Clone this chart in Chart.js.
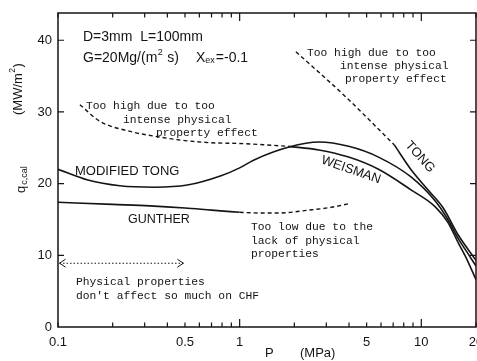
<!DOCTYPE html>
<html><head><meta charset="utf-8">
<script src="https://cdn.jsdelivr.net/npm/chart.js@4"></script>
<style>html,body{margin:0;padding:0;background:#fff}canvas{display:block}</style>
</head><body>
<canvas id="c" width="477" height="361"></canvas>
<script>
// ---- data (P in MPa, q in MW/m2) ----
const modTongP = [0.1, 0.146, 0.219, 0.34, 0.515, 0.79, 1.0, 1.2, 1.87, 2.73, 3.98, 5.81, 8.81, 11.9, 14.0, 16.0, 18.0, 20];
const modTongQ = [22.0, 20.5, 19.7, 19.5, 19.8, 21.1, 22.2, 23.3, 25.1, 25.8, 25.2, 23.7, 20.9, 17.6, 15.0, 12.3, 10.3, 8.5];
const weismanSolidP = [1.85, 2.73, 3.98, 5.81, 8.81, 11.9, 14.0, 16.0, 18.0, 20];
const weismanSolidQ = [25.2, 24.7, 23.7, 22.0, 19.1, 16.8, 14.6, 11.7, 9.2, 6.6];
const weismanDashP = [0.132, 0.17, 0.258, 0.362, 0.5, 0.7, 1.0, 1.4, 1.85];
const weismanDashQ = [31.0, 28.7, 27.2, 26.5, 26.0, 25.7, 25.6, 25.4, 25.2];
const tongDashP = [2.04, 3.8, 7.1];
const tongDashQ = [38.4, 32.2, 25.4];
const tongSolidP = [7.1, 8.81, 10.9, 13.2, 16.0, 20];
const tongSolidQ = [25.4, 21.9, 19.1, 16.6, 12.8, 9.3];
const guntherSolidP = [0.1, 0.2, 0.32, 0.5, 0.7, 1.0];
const guntherSolidQ = [17.4, 17.1, 16.9, 16.6, 16.3, 16.0];
const guntherDashP = [1.0, 1.3, 1.65, 2.4, 3.2, 4.0];
const guntherDashQ = [16.0, 15.9, 15.9, 16.3, 16.7, 17.2];
const arrowP = [0.102, 0.49];
const arrowQ = [8.9, 8.9];

const xTickValues = [0.1,0.2,0.3,0.4,0.5,0.6,0.7,0.8,0.9,1,2,3,4,5,6,7,8,9,10,20];
const xTickLabels = ['0.1','0.5','1','5','10','20'];
const xMajorTicks = [1, 10];
const yTickValues = [0, 10, 20, 30, 40];

const ink = '#141414';
function series(P, Q) { return P.map((p, i) => ({x: p, y: Q[i]})); }
function ds(label, P, Q, dash, width) {
  return {label, data: series(P, Q), borderColor: ink, backgroundColor: ink,
    borderWidth: width || 1.6, borderDash: dash || [], pointRadius: 0, showLine: true,
    fill: false, cubicInterpolationMode: 'monotone'};
}

const SANS = '"Liberation Sans", Arial, sans-serif';
const MONO = '"Liberation Mono", "DejaVu Sans Mono", monospace';

const decor = {
  id: 'decor',
  afterDraw(chart) {
    const ctx = chart.ctx, xa = chart.scales.x, ya = chart.scales.y;
    const {left, right, top, bottom} = chart.chartArea;
    ctx.save();
    ctx.strokeStyle = ink; ctx.fillStyle = ink;
    ctx.lineWidth = 1.5; ctx.setLineDash([]);
    ctx.strokeRect(left, top, right - left, bottom - top);
    ctx.lineWidth = 1.2;
    ctx.beginPath();
    xTickValues.forEach(v => {
      const x = xa.getPixelForValue(v);
      const len = xMajorTicks.includes(v) ? 8 : 4.5;
      ctx.moveTo(x, bottom); ctx.lineTo(x, bottom - len);
      ctx.moveTo(x, top); ctx.lineTo(x, top + len);
    });
    yTickValues.filter(v => v > 0).forEach(v => {
      const y = ya.getPixelForValue(v);
      ctx.moveTo(left, y); ctx.lineTo(left + 6, y);
      ctx.moveTo(right, y); ctx.lineTo(right - 6, y);
    });
    ctx.stroke();

    // arrow heads of the dotted double arrow
    const ay = ya.getPixelForValue(arrowQ[0]);
    const ax0 = xa.getPixelForValue(arrowP[0]), ax1 = xa.getPixelForValue(arrowP[1]);
    ctx.lineWidth = 1;
    ctx.beginPath();
    ctx.moveTo(ax0 + 6, ay - 4); ctx.lineTo(ax0, ay); ctx.lineTo(ax0 + 6, ay + 4);
    ctx.moveTo(ax1 - 6, ay - 4); ctx.lineTo(ax1, ay); ctx.lineTo(ax1 - 6, ay + 4);
    ctx.stroke();

    ctx.textBaseline = 'middle'; ctx.textAlign = 'left';
    function t(s, x, y, font) { ctx.font = font; ctx.fillText(s, x, y); return ctx.measureText(s).width; }

    // condition text
    let x = 83;
    t('D=3mm  L=100mm', x, 37, '14px ' + SANS);
    x = 83;
    x += t('G=20Mg/(m', x, 58, '14px ' + SANS);
    x += t('2', x + 0.5, 53, '9px ' + SANS) + 1;
    x += t(' s)', x, 58, '14px ' + SANS);
    x = 196;
    x += t('X', x, 58, '14px ' + SANS);
    x += t('ex', x, 61, '9px ' + SANS);
    t('=-0.1', x + 1, 58, '14px ' + SANS);

    // typewriter annotations
    const mf = '11.3px ' + MONO;
    t('Too high due to too', 86, 106, mf);
    t('intense physical', 123, 120, mf);
    t('property effect', 156, 133, mf);
    t('Too high due to too', 307, 53, mf);
    t('intense physical', 340, 66, mf);
    t('property effect', 345, 79, mf);
    t('Too low due to the', 251, 227, mf);
    t('lack of physical', 251, 241, mf);
    t('properties', 251, 254, mf);
    t('Physical properties', 76, 282, mf);
    t("don't affect so much on CHF", 76, 296, mf);

    // curve labels
    t('MODIFIED TONG', 75, 171, '13px ' + SANS);
    t('GUNTHER', 128, 220, '12.5px ' + SANS);
    ctx.save();
    ctx.translate(351, 170); ctx.rotate(19 * Math.PI / 180);
    ctx.textAlign = 'center'; t('WEISMAN', 0, 0, '13px ' + SANS);
    ctx.restore();
    ctx.save();
    ctx.translate(420, 157); ctx.rotate(48 * Math.PI / 180);
    ctx.textAlign = 'center'; t('TONG', 0, 0, '13px ' + SANS);
    ctx.restore();

    // axis titles
    t('P', 265, 353, '13px ' + SANS);
    t('(MPa)', 300, 353, '13px ' + SANS);
    ctx.save();
    ctx.translate(18, 115); ctx.rotate(-Math.PI / 2);
    let w = t('(MW/m', 0, 0, '13px ' + SANS);
    w += t('2', w + 0.5, -5, '8.5px ' + SANS) + 1;
    t(')', w, 0, '13px ' + SANS);
    ctx.restore();
    ctx.save();
    ctx.translate(21, 193); ctx.rotate(-Math.PI / 2);
    w = t('q', 0, 0, '13px ' + SANS);
    t('c,cal', w + 1, 4, '9px ' + SANS);
    ctx.restore();
    ctx.restore();
  }
};

new Chart(document.getElementById('c'), {
  type: 'scatter',
  data: {
    datasets: [
      ds('Modified Tong', modTongP, modTongQ),
      ds('Weisman', weismanSolidP, weismanSolidQ),
      ds('Weisman (extrapolated)', weismanDashP, weismanDashQ, [4, 3], 1.4),
      ds('Tong (extrapolated)', tongDashP, tongDashQ, [4, 3], 1.4),
      ds('Tong', tongSolidP, tongSolidQ),
      ds('Gunther', guntherSolidP, guntherSolidQ),
      ds('Gunther (extrapolated)', guntherDashP, guntherDashQ, [4, 3], 1.4),
      ds('range', arrowP, arrowQ, [1.5, 2], 1.1)
    ]
  },
  options: {
    responsive: false, animation: false, devicePixelRatio: 1,
    layout: {padding: {top: 13, right: 1, left: 0, bottom: 0}},
    plugins: {legend: {display: false}, tooltip: {enabled: false}},
    scales: {
      x: {
        type: 'logarithmic', min: 0.1, max: 20,
        grid: {display: false, drawTicks: false}, border: {display: false},
        ticks: {autoSkip: false, maxRotation: 0, minRotation: 0, color: ink, padding: 8,
          font: {family: SANS, size: 13},
          callback: v => xTickLabels.includes(String(v)) ? String(v) : ''},
        afterBuildTicks: s => { s.ticks = xTickValues.map(v => ({value: v})); },
        afterFit: s => { s.height = 34; s.paddingLeft = 0; s.paddingRight = 0; }
      },
      y: {
        type: 'linear', min: 0, max: 43.8,
        grid: {display: false, drawTicks: false}, border: {display: false},
        ticks: {color: ink, padding: 6, font: {family: SANS, size: 13}},
        afterBuildTicks: s => { s.ticks = yTickValues.map(v => ({value: v})); },
        afterFit: s => { s.width = 58; s.paddingTop = 0; s.paddingBottom = 0; }
      }
    }
  },
  plugins: [decor]
});
</script>
</body></html>
